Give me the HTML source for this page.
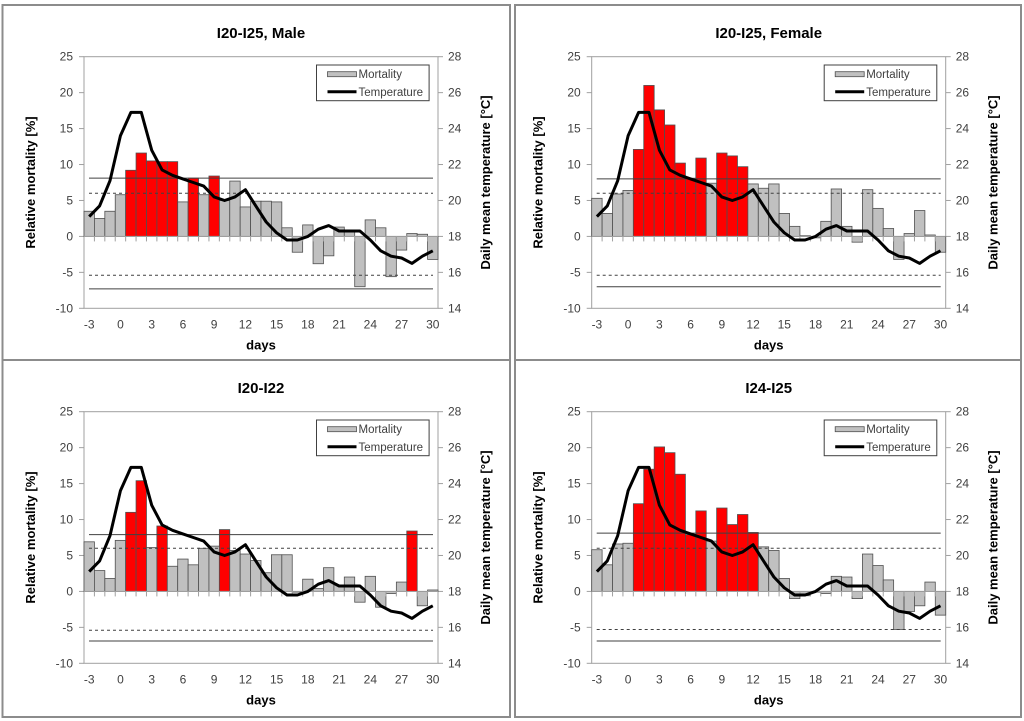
<!DOCTYPE html>
<html><head><meta charset="utf-8">
<style>
body{margin:0;background:#fff;width:1024px;height:721px;overflow:hidden;font-family:"Liberation Sans",sans-serif;}
svg{position:absolute;left:0;top:0;}
</style></head>
<body>
<svg id="chart" width="1024" height="721" viewBox="0 0 1024 721"></svg>
<script>
const days = [-3,-2,-1,0,1,2,3,4,5,6,7,8,9,10,11,12,13,14,15,16,17,18,19,20,21,22,23,24,25,26,27,28,29,30];
const xTickLabels = ["-3","0","3","6","9","12","15","18","21","24","27","30"];
const yLeftTicks = [-10,-5,0,5,10,15,20,25];
const yRightTicks = [14,16,18,20,22,24,26,28];
const temperature = [19.1,19.7,21.1,23.6,24.9,24.9,22.8,21.7,21.4,21.2,21.0,20.8,20.2,20.0,20.2,20.6,19.7,18.8,18.2,17.8,17.8,18.0,18.4,18.6,18.3,18.3,18.3,17.8,17.2,16.9,16.8,16.5,16.9,17.2];
const titles = ["I20-I25, Male","I20-I25, Female","I20-I22","I24-I25"];
const mortMale = [3.5,2.5,3.5,5.8,9.2,11.6,10.5,10.4,10.4,4.8,8.1,5.8,8.4,5.0,7.7,4.1,4.9,4.9,4.8,1.2,-2.2,1.6,-3.8,-2.7,1.3,0.9,-7.0,2.3,1.2,-5.6,-1.9,0.4,0.3,-3.2];
const mortFemale = [5.3,3.2,5.9,6.4,12.1,21.0,17.6,15.5,10.2,8.1,10.9,7.4,11.6,11.2,9.7,7.3,6.7,7.3,3.2,1.4,0.1,-0.2,2.1,6.6,1.4,-0.8,6.5,3.9,1.1,-3.2,0.4,3.6,0.2,-2.2];
const mortI2022 = [6.9,2.9,1.8,7.1,11.0,15.4,6.1,9.1,3.5,4.5,3.7,6.0,6.3,8.6,5.7,5.2,4.3,2.6,5.1,5.1,-0.1,1.7,0.4,3.3,0.9,2.0,-1.5,2.1,-2.2,-0.3,1.3,8.4,-2.0,0.2];
const mortI2425 = [5.8,3.7,6.6,6.7,12.2,17.0,20.1,19.3,16.3,7.9,11.2,7.0,11.6,9.3,10.7,8.2,6.2,5.7,1.8,-1.0,-0.6,-0.1,-0.3,2.1,2.0,-1.0,5.2,3.6,1.6,-5.3,-2.8,-2.0,1.3,-3.3];
const redMale = [1,2,3,4,5,7,9];
const redFemale = [1,2,3,4,5,6,7,9,10,11];
const redI2022 = [1,2,4,10,28];
const redI2425 = [1,2,3,4,5,6,7,9,10,11,12];
const limUpperSolid = [8.1,8.0,7.9,8.1];
const limUpperDash = [6.0,6.0,6.0,6.0];
const limLowerDash = [-5.4,-5.4,-5.4,-5.3];
const limLowerSolid = [-7.3,-7.0,-6.9,-6.9];

const mortAll=[mortMale,mortFemale,mortI2022,mortI2425];
const redAll=[redMale,redFemale,redI2022,redI2425];
const NS="http://www.w3.org/2000/svg";
const svg=document.getElementById('chart');
function mk(tag,attrs,parent){const e=document.createElementNS(NS,tag);for(const k in attrs)e.setAttribute(k,attrs[k]);(parent||svg).appendChild(e);return e;}

const panels=[{bx:2.5,by:5,bw:507.5,bh:355,px:84,py:56.7},{bx:515,by:5,bw:506,bh:355,px:591.7,py:56.7},
{bx:2.5,by:360,bw:507.5,bh:357,px:84,py:411.7},{bx:515,by:360,bw:506,bh:357,px:591.7,py:411.7}];
const PW=354, PH=251.6;

panels.forEach((p,pi)=>{
  const g=mk('g',{});
  
  
  const box=mk('rect',{x:p.bx,y:p.by,width:p.bw,height:p.bh,fill:'none',stroke:'#8c8c8c','stroke-width':2},g);
  
  
  const L=p.px,T=p.py,R=L+PW,B=T+PH;
  const yL=v=>B-(v+10)/35*PH;
  const yR=v=>B-(v-14)/14*PH;
  const bw=PW/days.length;
  const xC=i=>L+bw*(i+0.5);
  // title
  const t=mk('text',{x:(L+R)/2,y:p.by+33,'text-anchor':'middle','font-size':15,'font-weight':'bold',fill:'#000'},g);
  t.textContent=titles[pi];
  
  
  // plot frame
  const fr=mk('rect',{x:L,y:T,width:PW,height:PH,fill:'#fff',stroke:'#a0a0a0','stroke-width':1},g);
  
  
  // left ticks
  yLeftTicks.forEach(v=>{
    mk('line',{x1:L-5,x2:L,y1:yL(v),y2:yL(v),stroke:'#a0a0a0'},g);
    const tx=mk('text',{x:L-11,y:yL(v)+4,'text-anchor':'end','font-size':12,fill:'#404040'},g);
    tx.textContent=v;
    
    
  });
  yRightTicks.forEach(v=>{
    mk('line',{x1:R,x2:R+5,y1:yR(v),y2:yR(v),stroke:'#a0a0a0'},g);
    const tx=mk('text',{x:R+10,y:yR(v)+4,'text-anchor':'start','font-size':12,fill:'#404040'},g);
    tx.textContent=v;
    
    
  });
  // bars
  const m=mortAll[pi], reds=redAll[pi];
  m.forEach((v,i)=>{
    const y0=yL(0), y1=yL(v);
    const red=reds.indexOf(days[i])>=0;
    const r=mk('rect',{x:L+bw*i,y:Math.min(y0,y1),width:bw,height:Math.abs(y1-y0),fill:red?'#ff0000':'#c0c0c0',stroke:'#505050','stroke-width':0.8},g);
    
    
  });
  // zero axis line + x ticks
  mk('line',{x1:L,x2:R,y1:yL(0),y2:yL(0),stroke:'#a0a0a0'},g);
  for(let i=1;i<days.length;i++) mk('line',{x1:L+bw*i,x2:L+bw*i,y1:yL(0),y2:yL(0)+5,stroke:'#a0a0a0'},g);
  days.forEach((d,i)=>{
    if(xTickLabels.indexOf(String(d))<0)return;
    const tx=mk('text',{x:xC(i),y:B+20,'text-anchor':'middle','font-size':12,fill:'#404040'},g);
    tx.textContent=String(d);
    
    
  });
  // threshold lines
  [[limUpperSolid[pi],''],[limUpperDash[pi],'3,3'],[limLowerDash[pi],'3,3'],[limLowerSolid[pi],'']].forEach(([v,da])=>{
    const ln=mk('line',{x1:L+5,x2:R-5,y1:yL(v),y2:yL(v),stroke:'#404040','stroke-width':1,'stroke-dasharray':da},g);
    
    
  });
  // temperature line
  const pts=temperature.map((v,i)=>xC(i).toFixed(1)+','+yR(v).toFixed(1)).join(' ');
  const pl=mk('polyline',{points:pts,fill:'none',stroke:'#000','stroke-width':3,'stroke-linejoin':'round'},g);
  
  
  // legend
  const lx=R-121.5, ly=T+8.3;
  const lg=mk('g',{},g);
  
  
  mk('rect',{x:lx,y:ly,width:112.6,height:35.7,fill:'#fff',stroke:'#404040','stroke-width':1},lg);
  const sw=mk('rect',{x:lx+11,y:ly+6.7,width:29,height:5,fill:'#c0c0c0',stroke:'#505050','stroke-width':0.8},lg);
  
  
  const t1=mk('text',{x:lx+42,y:ly+13,'font-size':11.5,fill:'#404040'},lg);t1.textContent='Mortality';
  mk('line',{x1:lx+11,x2:lx+40,y1:ly+26.7,y2:ly+26.7,stroke:'#000','stroke-width':3},lg);
  const t2=mk('text',{x:lx+42,y:ly+31,'font-size':11.5,fill:'#404040'},lg);t2.textContent='Temperature';
  
  
  // axis titles
  const xl=mk('text',{x:(L+R)/2,y:B+41,'text-anchor':'middle','font-size':13,'font-weight':'bold',fill:'#000'},g);
  xl.textContent='days';
  
  
  const cy=(T+B)/2;
  const yl=mk('text',{x:L-49,y:cy,'text-anchor':'middle','font-size':13,'font-weight':'bold',fill:'#000',transform:`rotate(-90 ${L-49} ${cy})`},g);
  yl.textContent='Relative mortality [%]';
  
  
  const yr=mk('text',{x:R+52,y:cy,'text-anchor':'middle','font-size':13,'font-weight':'bold',fill:'#000',transform:`rotate(-90 ${R+52} ${cy})`},g);
  yr.textContent='Daily mean temperature [°C]';
  
  
});
</script>
</body></html>
